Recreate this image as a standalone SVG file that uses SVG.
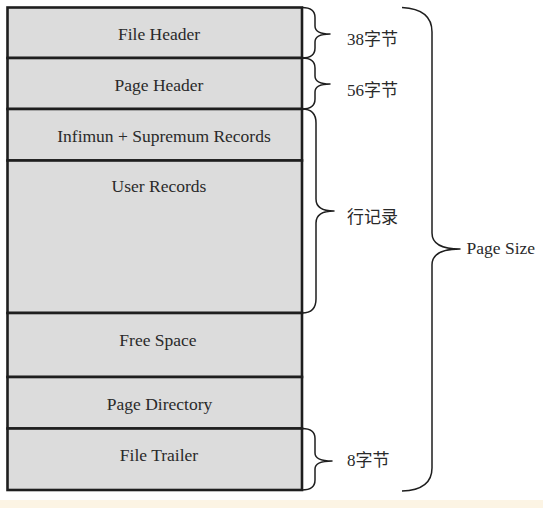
<svg xmlns="http://www.w3.org/2000/svg" width="543" height="508" viewBox="0 0 543 508">
<style>
.row{fill:#dcdcdc;stroke:#1e1e1e;stroke-width:2.6}
.t{font-family:"Liberation Serif","Times New Roman",serif;font-size:17.5px;fill:#2a2a2a;text-anchor:middle}
.lbl{font-family:"Liberation Serif","Noto Sans CJK SC",serif;font-size:17px;fill:#2a2a2a}
.br{fill:none;stroke:#1e1e1e;stroke-width:1.5;stroke-linejoin:round}
</style>
<rect x="0" y="500" width="543" height="8" fill="#fcf4e4"/>
<g id="file-header"><rect class="row" x="7.5" y="7.5" width="294.5" height="50.5"/><text class="t" x="159" y="40">File Header</text></g>
<g id="page-header"><rect class="row" x="7.5" y="58" width="294.5" height="51"/><text class="t" x="159" y="91">Page Header</text></g>
<g id="infimum-supremum"><rect class="row" x="7.5" y="109" width="294.5" height="51.5"/><text class="t" x="164" y="142">Infimun + Supremum Records</text></g>
<g id="user-records"><rect class="row" x="7.5" y="160.5" width="294.5" height="152.5"/><text class="t" x="159" y="192">User Records</text></g>
<g id="free-space"><rect class="row" x="7.5" y="313" width="294.5" height="64"/><text class="t" x="158" y="346">Free Space</text></g>
<g id="page-directory"><rect class="row" x="7.5" y="377" width="294.5" height="51.5"/><text class="t" x="159.5" y="410">Page Directory</text></g>
<g id="file-trailer"><rect class="row" x="7.5" y="428.5" width="294.5" height="61.5"/><text class="t" x="159" y="461">File Trailer</text></g>
<g id="connectors">
<path class="br" d="M302,7.5 Q315,7.5 315,17.5 L315,26 Q315,34 330,34 Q315,34 315,42 L315,48 Q315,58 302,58"/>
<path class="br" d="M302,58 Q315,58 315,68 L315,76 Q315,84 330,84 Q315,84 315,92 L315,99 Q315,109 302,109"/>
<path class="br" d="M302,109 Q316,109 316,123 L316,199 Q316,211 334,211 Q316,211 316,223 L316,299 Q316,313 302,313"/>
<path class="br" d="M302,428.5 Q315,428.5 315,438.5 L315,453 Q315,461 332,461 Q315,461 315,469 L315,480 Q315,490 302,490"/>
<path class="br" d="M402,7.5 Q432,9 432,32 L432,233 Q432,249 460,249 Q432,249 432,265 L432,468 Q432,490 402,491"/>
</g>
<g id="labels">
<text class="lbl" x="347" y="45">38字节</text>
<text class="lbl" x="347" y="95.5">56字节</text>
<text class="lbl" x="347" y="223" font-size="17.5">行记录</text>
<text class="lbl" x="347" y="466">8字节</text>
<text class="t" x="466.5" y="253.5" style="text-anchor:start">Page Size</text>
</g>
</svg>
